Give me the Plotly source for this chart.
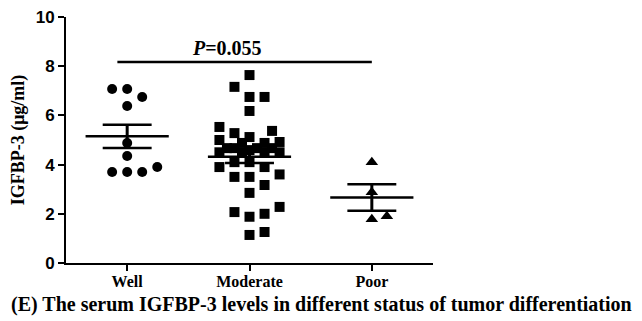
import numpy as np
import plotly.graph_objects as go

categories = ["Well", "Moderate", "Poor"]
well = [7.07, 7.07, 6.75, 6.38, 4.88, 4.35, 3.70, 3.70, 3.70, 3.90]
moderate = [7.64, 7.16, 6.75, 6.75, 6.18, 5.53, 5.28, 5.37, 5.12, 4.92, 5.00,
            4.88, 4.88, 4.67, 4.67, 4.67, 4.67, 4.59, 4.50, 4.50, 4.50, 4.50,
            4.10, 4.10, 3.90, 3.90, 3.50, 3.50, 3.60, 3.17, 2.85, 2.28, 2.00,
            1.88, 2.07, 1.14, 1.26]
poor = [4.10, 2.88, 1.78, 1.90]
y_ticks = [0, 2, 4, 6, 8, 10]
p_label = "<i>P</i>=0.055"
y_title = "IGFBP-3 (μg/ml)"
caption = "(E) The serum IGFBP-3 levels in different status of tumor differentiation"

groups = [well, moderate, poor]
symbols = ["circle", "square", "triangle-up"]

PX_X = 122.0   # pixels per category unit
PX_Y = 24.6    # pixels per y unit


def swarm(vals, step=7.5, n_steps=4, min_sep=13.0):
    order = sorted(range(len(vals)), key=lambda i: vals[i])
    placed = []
    offs = [0.0] * len(vals)
    cands = [0.0]
    for k in range(1, n_steps + 1):
        cands += [k * step, -k * step]
    for i in order:
        yp = vals[i] * PX_Y
        best, best_d = None, -1.0
        for c in cands:
            dmin = min([np.hypot(c - px, yp - py) for px, py in placed] or [1e9])
            if dmin >= min_sep - 1e-6:
                best = c
                break
            if dmin > best_d + 0.5:
                best, best_d = c, dmin
        offs[i] = best
        placed.append((best, yp))
    return [o / PX_X for o in offs]


fig = go.Figure()
for gi, (vals, sym) in enumerate(zip(groups, symbols)):
    offs = swarm(vals)
    fig.add_trace(go.Scatter(
        x=[gi + o for o in offs], y=vals, mode="markers",
        marker=dict(symbol=sym, size=10 if sym != "triangle-up" else 11,
                    color="black", line=dict(width=0)),
        showlegend=False, hoverinfo="y"))

    arr = np.array(vals)
    m = arr.mean()
    sem = arr.std(ddof=1) / np.sqrt(len(arr))
    fig.add_trace(go.Scatter(x=[gi - 0.34, gi + 0.34], y=[m, m], mode="lines",
                             line=dict(color="black", width=2.5), showlegend=False,
                             hoverinfo="skip"))
    for yv in (m - sem, m + sem):
        fig.add_trace(go.Scatter(x=[gi - 0.2, gi + 0.2], y=[yv, yv], mode="lines",
                                 line=dict(color="black", width=2.5), showlegend=False,
                                 hoverinfo="skip"))
    fig.add_trace(go.Scatter(x=[gi, gi], y=[m - sem, m + sem], mode="lines",
                             line=dict(color="black", width=3), showlegend=False,
                             hoverinfo="skip"))

# significance bar
fig.add_trace(go.Scatter(x=[-0.08, 2.0], y=[8.17, 8.17], mode="lines",
                         line=dict(color="black", width=2.5), showlegend=False,
                         hoverinfo="skip"))
fig.add_annotation(x=0.82, y=8.22, xref="x", yref="y", text=p_label,
                   showarrow=False, yanchor="bottom",
                   font=dict(family="Liberation Serif", size=20, color="black", weight="bold"))

L, T, R, B = 66, 17, 209, 58
W, H = 642, 321
plot_w = W - L - R
plot_h = H - T - B
fig.add_annotation(x=(321 - L) / plot_w, y=-(304 - 263) / plot_h,
                   xref="paper", yref="paper", text=caption,
                   showarrow=False, yanchor="middle", xanchor="center",
                   font=dict(family="Liberation Serif", size=20, color="black", weight="bold"))

fig.update_layout(
    width=W, height=H,
    margin=dict(l=L, r=R, t=T, b=B),
    paper_bgcolor="white", plot_bgcolor="white",
    xaxis=dict(range=[-0.5, 2.5], tickvals=[0, 1, 2], ticktext=categories,
               automargin=False, ticklabelstandoff=-3,
               showgrid=False, zeroline=False, showline=True, linecolor="black",
               linewidth=2, ticks="outside", ticklen=6, tickwidth=2, tickcolor="black",
               tickfont=dict(family="Liberation Serif", size=16, color="black", weight="bold")),
    yaxis=dict(range=[0, 10], tickvals=y_ticks, showgrid=False, zeroline=False,
               automargin=False,
               showline=True, linecolor="black", linewidth=2, ticks="outside",
               ticklen=6, tickwidth=2, tickcolor="black",
               tickfont=dict(family="Liberation Sans", size=17, color="black", weight="bold"),
               title=dict(text=y_title, standoff=6,
                          font=dict(family="Liberation Serif", size=18, color="black",
                                    weight="bold"))),
)

fig.write_html("out.html", config={"displayModeBar": False},
               post_script="document.body.style.margin='0';document.body.style.overflow='hidden';")
